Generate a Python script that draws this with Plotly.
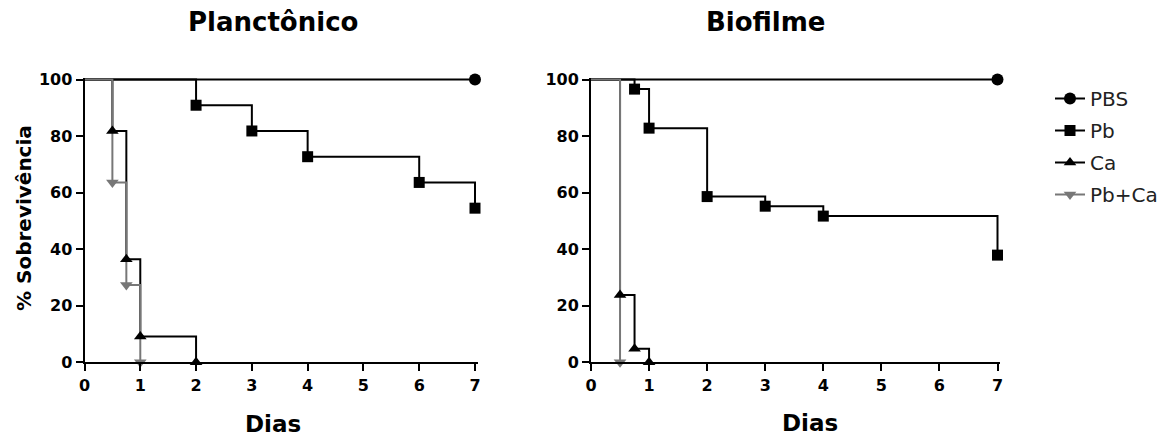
import plotly.graph_objects as go

# ---------------- data ----------------
SERIES = ["PBS", "Pb", "Ca", "Pb+Ca"]

# Planctônico panel (days, % survival)
PLANC_PBS_X = [0, 7]
PLANC_PBS_Y = [100, 100]
PLANC_PB_X = [0, 2, 3, 4, 6, 7]
PLANC_PB_Y = [100, 90.9, 81.8, 72.7, 63.6, 54.5]
PLANC_CA_X = [0, 0.5, 0.75, 1, 2]
PLANC_CA_Y = [100, 81.8, 36.4, 9.1, 0]
PLANC_PBCA_X = [0, 0.5, 0.75, 1]
PLANC_PBCA_Y = [100, 63.6, 27.3, 0]

# Biofilme panel
BIO_PBS_X = [0, 7]
BIO_PBS_Y = [100, 100]
BIO_PB_X = [0, 0.75, 1, 2, 3, 4, 7]
BIO_PB_Y = [100, 96.6, 82.8, 58.6, 55.2, 51.7, 37.9]
BIO_CA_X = [0, 0.5, 0.75, 1]
BIO_CA_Y = [100, 23.8, 4.8, 0]
BIO_PBCA_X = [0, 0.5]
BIO_PBCA_Y = [100, 0]

X_TICKS = [0, 1, 2, 3, 4, 5, 6, 7]
Y_TICKS = [0, 20, 40, 60, 80, 100]

# ---------------- styles ----------------
COLORS = {"PBS": "#000000", "Pb": "#000000", "Ca": "#000000", "Pb+Ca": "#777777"}
SYMBOLS = {"PBS": "circle", "Pb": "square", "Ca": "triangle-up", "Pb+Ca": "triangle-down"}
MSIZE = {"PBS": 12, "Pb": 11, "Ca": 11, "Pb+Ca": 11}
FONT = "DejaVu Sans, Arial, sans-serif"

panels = [
    ("x", "y", {"PBS": (PLANC_PBS_X, PLANC_PBS_Y), "Pb": (PLANC_PB_X, PLANC_PB_Y),
                "Ca": (PLANC_CA_X, PLANC_CA_Y), "Pb+Ca": (PLANC_PBCA_X, PLANC_PBCA_Y)}),
    ("x2", "y2", {"PBS": (BIO_PBS_X, BIO_PBS_Y), "Pb": (BIO_PB_X, BIO_PB_Y),
                  "Ca": (BIO_CA_X, BIO_CA_Y), "Pb+Ca": (BIO_PBCA_X, BIO_PBCA_Y)}),
]

fig = go.Figure()

# step lines
for pi, (xa, ya, data) in enumerate(panels):
    for name in SERIES:
        xs, ys = data[name]
        fig.add_trace(go.Scatter(
            x=xs, y=ys, xaxis=xa, yaxis=ya, name=name, mode="lines",
            line=dict(shape="hv", color=COLORS[name], width=2),
            showlegend=False, legendgroup=name, hoverinfo="skip",
        ))

# markers on top of all lines
for pi, (xa, ya, data) in enumerate(panels):
    for name in SERIES:
        xs, ys = data[name]
        fig.add_trace(go.Scatter(
            x=xs[1:], y=ys[1:], xaxis=xa, yaxis=ya, name=name, mode="markers",
            marker=dict(symbol=SYMBOLS[name], size=MSIZE[name], color=COLORS[name], line=dict(width=0)),
            showlegend=False, legendgroup=name, cliponaxis=False, hoverinfo="skip",
        ))

# legend entries (line + marker)
for name in SERIES:
    fig.add_trace(go.Scatter(
        x=[None], y=[None], xaxis="x", yaxis="y", name=name, mode="lines+markers",
        line=dict(color=COLORS[name], width=2),
        marker=dict(symbol=SYMBOLS[name], size=MSIZE[name], color=COLORS[name], line=dict(width=0)),
        showlegend=True, legendgroup=name,
    ))

axis_common = dict(
    showgrid=False, zeroline=False, showline=True, linecolor="black", linewidth=2,
    ticks="outside", ticklen=7, tickwidth=2, tickcolor="black",
    tickfont=dict(family=FONT, size=16, color="black", weight="bold"),
)
Y_MAX = 100.6
X_MAX = 7.05
y0_px, y100_px = 362.3, 79.5
ytop_px = y0_px - (y0_px - y100_px) * Y_MAX / 100
ydom = [1 - y0_px / 439, 1 - ytop_px / 439]
l0, l7 = 84.5, 475.0
r0, r7 = 591.0, 997.5
fig.update_layout(
    width=1176, height=439,
    margin=dict(l=0, r=0, t=0, b=0, autoexpand=False),
    paper_bgcolor="white", plot_bgcolor="white",
    font=dict(family=FONT, color="black"),
    xaxis=dict(domain=[l0 / 1176, (l0 + (l7 - l0) * X_MAX / 7) / 1176], range=[0, X_MAX],
               tickvals=X_TICKS, anchor="y", **axis_common),
    yaxis=dict(domain=ydom, range=[0, Y_MAX], tickvals=Y_TICKS, anchor="x", **axis_common),
    xaxis2=dict(domain=[r0 / 1176, (r0 + (r7 - r0) * X_MAX / 7) / 1176], range=[0, X_MAX],
                tickvals=X_TICKS, anchor="y2", **axis_common),
    yaxis2=dict(domain=ydom, range=[0, Y_MAX], tickvals=Y_TICKS, anchor="x2", **axis_common),
    legend=dict(x=1050 / 1176, y=1 - 79 / 439, xanchor="left", yanchor="top",
                font=dict(family=FONT, size=20, color="#222222"),
                tracegroupgap=3, bgcolor="rgba(0,0,0,0)"),
    annotations=[
        dict(text="<b>Planctônico</b>", x=273 / 1176, y=1 - 22 / 439, xref="paper", yref="paper",
             xanchor="center", yanchor="middle",
             showarrow=False, font=dict(family=FONT, size=26, color="black")),
        dict(text="<b>Biofilme</b>", x=766 / 1176, y=1 - 22 / 439, xref="paper", yref="paper",
             xanchor="center", yanchor="middle",
             showarrow=False, font=dict(family=FONT, size=26, color="black")),
        dict(text="<b>Dias</b>", x=273 / 1176, y=1 - 424 / 439, xref="paper", yref="paper",
             xanchor="center", yanchor="middle",
             showarrow=False, font=dict(family=FONT, size=23, color="black")),
        dict(text="<b>Dias</b>", x=810 / 1176, y=1 - 423 / 439, xref="paper", yref="paper",
             xanchor="center", yanchor="middle",
             showarrow=False, font=dict(family=FONT, size=23, color="black")),
        dict(text="<b>% Sobrevivência</b>", x=24 / 1176, y=1 - 218 / 439, xref="paper", yref="paper",
             xanchor="center", yanchor="middle",
             showarrow=False, textangle=-90, font=dict(family=FONT, size=20, color="black")),
    ],
)

fig.write_html("out.html")
